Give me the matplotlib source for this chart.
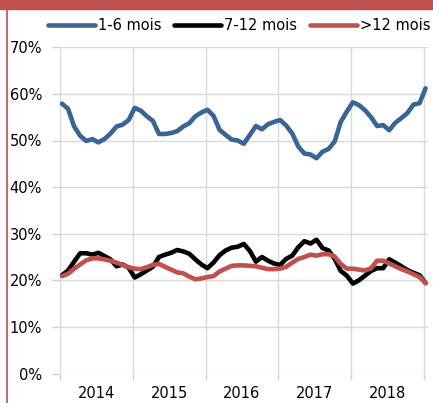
import numpy as np
import matplotlib.pyplot as plt
from matplotlib.patches import Rectangle
from matplotlib.lines import Line2D

# monthly shares (%), Jan 2014 -> Jan 2019
m1_6 = [57.9, 56.8, 53.0, 51.0, 49.9, 50.3, 49.6, 50.3, 51.5, 53.0, 53.4, 54.4,
        57.0, 56.4, 55.2, 54.2, 51.4, 51.4, 51.6, 52.0, 53.0, 53.7, 55.2, 56.0,
        56.6, 55.3, 52.3, 51.2, 50.2, 50.0, 49.3, 51.2, 53.1, 52.4, 53.5, 54.0,
        54.4, 53.2, 51.5, 48.7, 47.2, 47.0, 46.2, 47.6, 48.2, 49.8, 54.0, 56.2,
        58.2, 57.6, 56.5, 55.0, 53.1, 53.3, 52.2, 53.8, 54.8, 55.9, 57.7, 58.0,
        61.2]
m7_12 = [21.1, 22.1, 24.0, 25.8, 25.8, 25.5, 25.9, 25.2, 24.5, 23.0, 23.4, 22.7,
         20.6, 21.3, 22.1, 22.9, 25.0, 25.5, 25.9, 26.5, 26.2, 25.7, 24.5, 23.4,
         22.6, 23.8, 25.4, 26.4, 27.0, 27.2, 27.8, 26.3, 24.0, 25.0, 24.2, 23.6,
         23.3, 24.6, 25.3, 27.1, 28.4, 27.9, 28.7, 26.9, 26.4, 24.6, 22.0, 21.0,
         19.3, 20.0, 21.0, 22.0, 22.6, 22.6, 24.5, 23.8, 23.0, 22.2, 21.6, 21.1,
         19.4]
m12p = [20.9, 21.4, 22.5, 23.4, 24.3, 24.7, 24.7, 24.5, 24.2, 23.8, 23.3, 22.8,
        22.5, 22.4, 22.8, 23.3, 23.5, 22.9, 22.3, 21.7, 21.5, 20.8, 20.2, 20.4,
        20.7, 20.9, 21.9, 22.5, 23.1, 23.2, 23.2, 23.1, 23.0, 22.7, 22.4, 22.4,
        22.5, 22.9, 23.8, 24.6, 25.0, 25.5, 25.3, 25.6, 25.6, 25.1, 23.5, 22.5,
        22.5, 22.3, 22.1, 22.6, 24.2, 24.2, 23.6, 23.0, 22.4, 21.9, 21.3, 20.7,
        19.4]
years = ['2014', '2015', '2016', '2017', '2018']
labels = ['1-6 mois', '7-12 mois', '>12 mois']
colors = ['#386595', '#000000', '#c0504d']

W, H = 433, 403
fig = plt.figure(figsize=(W / 100, H / 100), dpi=100)
ax = fig.add_axes([60.2 / W, (H - 373.5) / H, (428 - 60.2) / W, (373.5 - 47.3) / H])

x = np.arange(len(m1_6))
for vals, lab, col in zip([m1_6, m7_12, m12p], labels, colors):
    ax.plot(x, vals, color=col, lw=3.3, label=lab, solid_capstyle='round')

ax.set_xlim(-0.3, 60.4)
ax.set_ylim(0, 70)

# year boundaries as minor ticks/grid, year names centred between them
ax.set_xticks(np.arange(len(years) + 1) * 12 - 0.3, minor=True)
ax.set_xticks(np.arange(len(years)) * 12 + 5.7)
ax.set_xticklabels(years)
ax.tick_params(axis='x', which='major', length=0, pad=9, labelsize=10.5)
ax.tick_params(axis='x', which='minor', length=4, color='#d0d0d0', width=1)
ax.grid(axis='x', which='minor', color='#d9d9d9', lw=1)

ax.set_yticks(np.arange(0, 71, 10))
ax.set_yticklabels([f'{v}%' for v in range(0, 71, 10)])
ax.tick_params(axis='y', length=6, color='#d0d0d0', width=1, pad=7, labelsize=10.5)
ax.grid(axis='y', color='#d9d9d9', lw=1)
ax.set_axisbelow(True)
for s in ax.spines.values():
    s.set_visible(False)

fig.legend(loc='center', bbox_to_anchor=(0.552, 1 - 26 / H), ncol=3, frameon=False,
           fontsize=10.5, handlelength=3.2, handletextpad=0.2, columnspacing=0.9,
           borderpad=0, borderaxespad=0)

# red frame pieces
fig.patches.append(Rectangle((0, 1 - 9 / H), 1, 9 / H, transform=fig.transFigure,
                             color='#c0504d', zorder=5))
fig.lines.append(Line2D([7.5 / W, 7.5 / W], [0, 1 - 9 / H], transform=fig.transFigure,
                        color='#c0504d', lw=1.2))

fig.savefig('out.png', dpi=100)
